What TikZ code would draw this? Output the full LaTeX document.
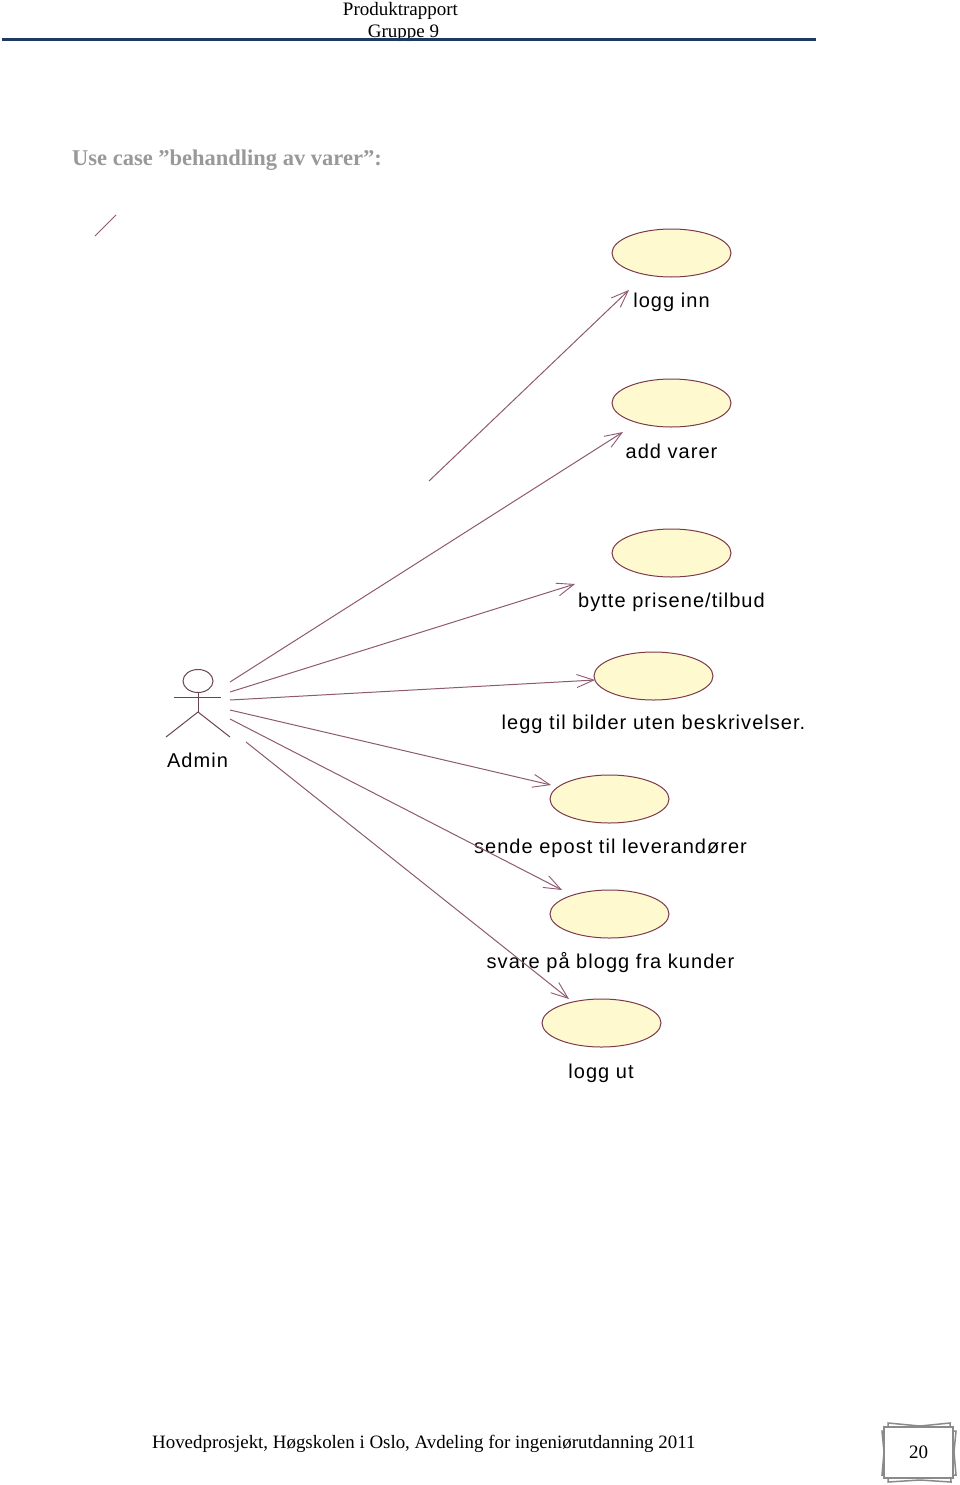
\documentclass[tikz,border=0pt]{standalone}
\usepackage{fontspec}
\setmainfont{Liberation Serif}
\newfontfamily\umlfont[LetterSpace=5.2]{Liberation Sans}
\usetikzlibrary{arrows.meta,shapes.geometric}
\definecolor{umlline}{HTML}{8E5A72}
\definecolor{umlfill}{HTML}{FFF9CF}
\definecolor{umledge}{HTML}{7D3A4A}
\definecolor{rulecol}{HTML}{1F3A5F}
\definecolor{titlegray}{HTML}{999999}
\definecolor{actorcol}{HTML}{6A4455}
\definecolor{framegray}{HTML}{8A8A8A}
\tikzset{
  usecase/.style={draw=umledge,fill=umlfill,ellipse,line width=1pt,minimum width=119pt,minimum height=48pt,inner sep=0pt},
  umltext/.style={font=\fontsize{20}{22}\selectfont\umlfont,text=black,inner sep=0pt},
  serif/.style={font=\fontsize{19}{22}\selectfont,text=black,inner sep=0pt},
  assoc/.style={draw=umlline,line width=1pt,-{Straight Barb[length=17pt,width=13pt,line width=0.9pt]}},
  plainline/.style={draw=umlline,line width=1pt},
  actorline/.style={draw=actorcol,line width=1pt},
  frameline/.style={draw=framegray,line width=1.5pt,fill=white}
}
\begin{document}
\begin{tikzpicture}[x=1pt,y=-1pt]
\useasboundingbox (0,0) rectangle (960,1485);
\fill[white] (0,0) rectangle (960,1485);
% header
\node[serif] (hA) at (400.5,10.5) {Produktrapport};
\node[serif] (hB) at (403.5,33) {Gruppe 9};
\coordinate (ruleL) at (2,40);
\coordinate (ruleR) at (816,40);
\draw[rulecol,line width=3pt] (ruleL) -- (ruleR);
\node[font=\fontsize{22.5}{24}\selectfont\bfseries,text=titlegray,inner sep=0pt,anchor=west] (title) at (72,160) {Use case ”behandling av varer”:};
% stray stroke
\coordinate (sA) at (95,236);
\coordinate (sB) at (116,215);
\draw[plainline] (sA) -- (sB);
% use cases
\node[usecase] (uc1) at (671.5,253) {};
\node[usecase] (uc2) at (671.5,403) {};
\node[usecase] (uc3) at (671.5,553) {};
\node[usecase] (uc4) at (653.5,676) {};
\node[usecase] (uc5) at (609.5,799) {};
\node[usecase] (uc6) at (609.5,914) {};
\node[usecase] (uc7) at (601.5,1023) {};
\node[umltext] (t1) at (671.5,302) {logg inn};
\node[umltext] (t2) at (671.5,451) {add varer};
\node[umltext] (t3) at (671.5,602) {bytte prisene/tilbud};
\node[umltext] (t4) at (653.5,724) {legg til bilder uten beskrivelser.};
\node[umltext] (t5) at (610.5,848) {sende epost til leverandører};
\node[umltext] (t6) at (610.5,963) {svare på blogg fra kunder};
\node[umltext] (t7) at (601,1073) {logg ut};
% actor
\node[draw=actorcol,line width=1pt,ellipse,minimum width=30pt,minimum height=23pt,inner sep=0pt] (head) at (198,681) {};
\coordinate (armL) at (174,697);
\coordinate (armR) at (221,697);
\coordinate (hip) at (198,712);
\coordinate (legL) at (166,737);
\coordinate (legR) at (230,737);
\draw[actorline] (armL) -- (armR);
\draw[actorline] (head.south) -- (hip);
\draw[actorline] (legL) -- (hip) -- (legR);
\node[umltext] (admin) at (197.5,760) {Admin};
% associations
\coordinate (a1) at (429,481); \coordinate (b1) at (629,290);
\coordinate (a2) at (230,682); \coordinate (b2) at (623,432);
\coordinate (a3) at (230,692); \coordinate (b3) at (575,584);
\coordinate (a4) at (230,700); \coordinate (b4) at (595,680);
\coordinate (a5) at (230,710); \coordinate (b5) at (551,785);
\coordinate (a6) at (230,719); \coordinate (b6) at (562,890);
\coordinate (a7) at (246,742); \coordinate (b7) at (569,999);
\foreach \i in {1,...,7} {\draw[assoc] (a\i) -- (b\i);}
% footer
\node[font=\fontsize{18.9}{22}\selectfont,inner sep=0pt,anchor=west] (foot) at (152,1444) {Hovedprosjekt, Høgskolen i Oslo, Avdeling for ingeniørutdanning 2011};
\draw[frameline] (888,1423) -- (920,1426) -- (950,1423) -- (951,1482) -- (920,1480) -- (888,1482) -- cycle;
\draw[frameline] (882,1431) -- (884,1452) -- (882,1475) -- (956,1475) -- (954,1452) -- (956,1431) -- cycle;
\node[draw=framegray,line width=1.5pt,fill=white,minimum width=69pt,minimum height=51pt,inner sep=0pt,font=\fontsize{19}{22}\selectfont] (page) at (918.5,1452.5) {20};
\end{tikzpicture}
\end{document}
